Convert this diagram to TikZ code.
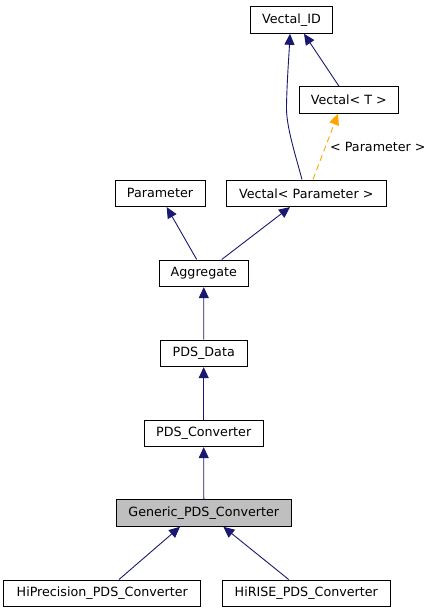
\documentclass[tikz,border=0pt]{standalone}
\usepackage{fontspec}
\setmainfont{DejaVu Sans}
\usetikzlibrary{arrows.meta}
\definecolor{edgeblue}{HTML}{191970}
\definecolor{dashorange}{HTML}{FFA500}
\definecolor{hilite}{HTML}{BFBFBF}
\begin{document}
\begin{tikzpicture}[x=1bp,y=-1bp,
  cls/.style={draw=black,line width=0.9bp,fill=white,inner sep=0pt,minimum height=26.7bp,font=\fontsize{12.7bp}{14bp}\selectfont},
  inh/.style={draw=edgeblue,line width=0.9bp,-{Triangle[length=11bp,width=10bp]}},
  tmpl/.style={draw=dashorange,line width=0.9bp,dashed,dash pattern=on 6bp off 4bp,-{Triangle[length=11bp,width=10bp]}},
  lbl/.style={inner sep=0pt,font=\fontsize{12.7bp}{14bp}\selectfont}]
\useasboundingbox (0,0) rectangle (432,613);
\node[cls,minimum width=81.6bp] (vid) at (291.5,20) {Vectal\_ID};
\node[cls,minimum width=99bp] (vt) at (348.8,100) {Vectal< T >};
\node[cls,minimum width=90bp] (par) at (160,193.3) {Parameter};
\node[cls,minimum width=159.3bp] (vp) at (306.3,193.3) {Vectal< Parameter >};
\node[cls,minimum width=89.7bp] (agg) at (203.8,273.3) {Aggregate};
\node[cls,minimum width=86.7bp] (pdsd) at (203.7,353.3) {PDS\_Data};
\node[cls,minimum width=119.3bp] (pdsc) at (203.7,433.3) {PDS\_Converter};
\node[cls,minimum width=175.7bp,fill=hilite] (gen) at (203.8,513) {Generic\_PDS\_Converter};
\node[cls,minimum width=196.7bp] (hip) at (102.3,593.3) {HiPrecision\_PDS\_Converter};
\node[cls,minimum width=167.3bp] (hir) at (306.3,593.3) {HiRISE\_PDS\_Converter};
\node[lbl,anchor=west] (tlbl) at (330,146.7) {< Parameter >};
% edges
\draw[inh] ([xshift=-4.3bp]vp.north) .. controls (294,150) and (286,125) .. (286.5,106) .. controls (287,80) and (289,55) .. ([xshift=-1.5bp]vid.south);
\draw[inh] ([xshift=-9.8bp]vt.north) -- ([xshift=12.5bp]vid.south);
\draw[tmpl] ([xshift=6.7bp]vp.north) -- ([xshift=-10.8bp]vt.south);
\draw[inh] ([xshift=-7.1bp]agg.north) -- ([xshift=6.7bp]par.south);
\draw[inh] ([xshift=17.9bp]agg.north) -- ([xshift=-16.3bp]vp.south);
\draw[inh] (pdsd.north) -- (agg.south);
\draw[inh] (pdsc.north) -- (pdsd.south);
\draw[inh] (gen.north) -- (pdsc.south);
\draw[inh] ([xshift=16.7bp]hip.north) -- ([xshift=-23.8bp]gen.south);
\draw[inh] ([xshift=-17.6bp]hir.north) -- ([xshift=19.5bp]gen.south);
\end{tikzpicture}
\end{document}
